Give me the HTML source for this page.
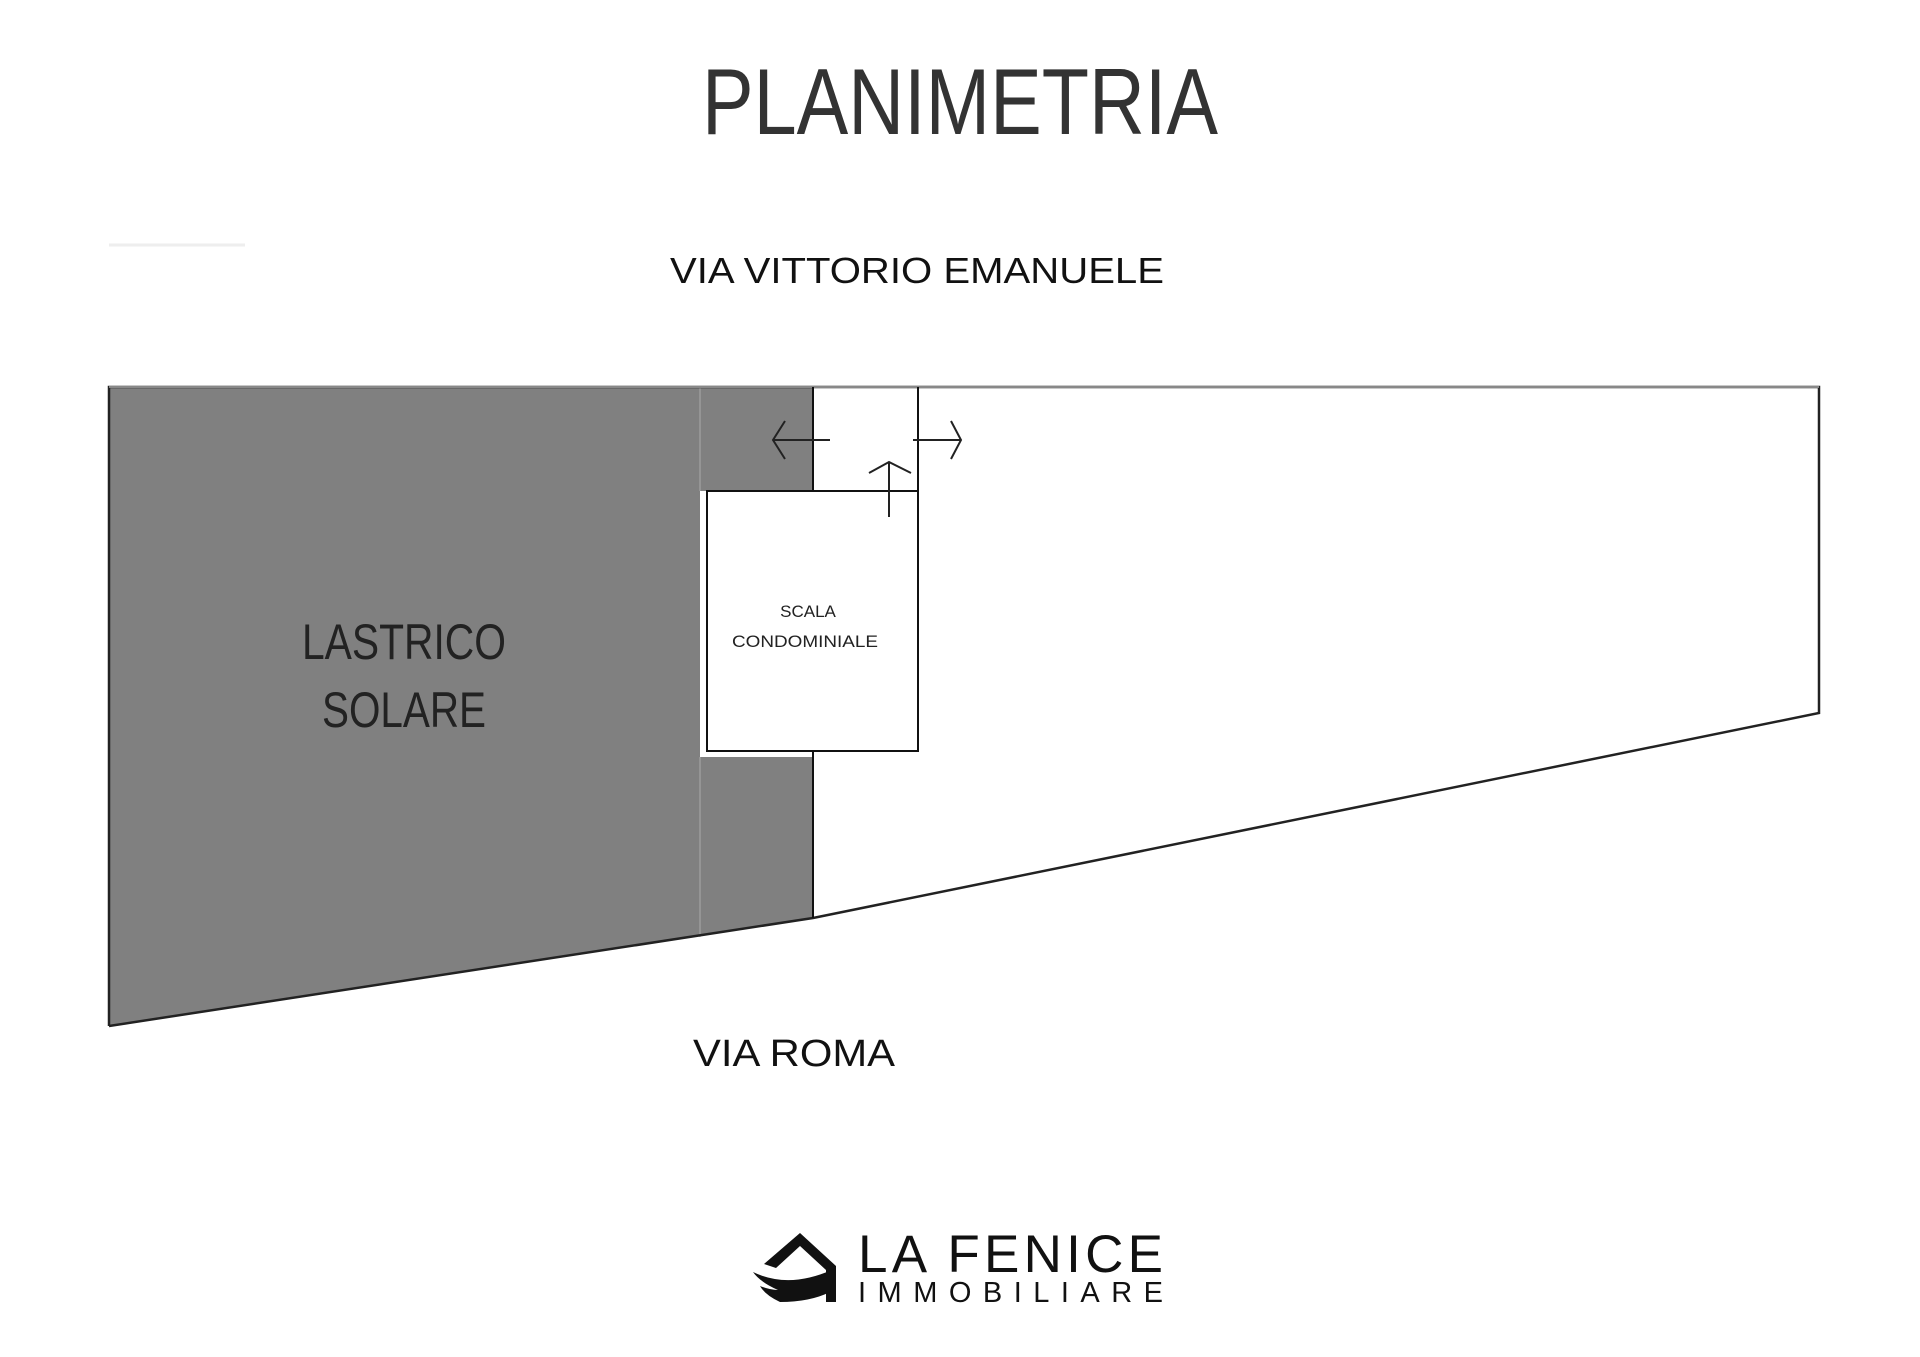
<!DOCTYPE html>
<html><head><meta charset="utf-8"><style>
html,body{margin:0;padding:0;background:#fff;}
svg{display:block}
</style></head><body>
<svg width="1920" height="1357" viewBox="0 0 1920 1357" xmlns="http://www.w3.org/2000/svg">
<rect width="1920" height="1357" fill="#fff"/>
<text x="960" y="134" font-family="Liberation Sans, sans-serif" font-size="94" fill="#333" text-anchor="middle" textLength="516" lengthAdjust="spacingAndGlyphs">PLANIMETRIA</text>
<line x1="109" y1="245" x2="245" y2="245" stroke="#eee" stroke-width="3"/>
<text x="670" y="283" font-family="Liberation Sans, sans-serif" font-size="36" fill="#111" textLength="494" lengthAdjust="spacingAndGlyphs">VIA  VITTORIO EMANUELE</text>

<polygon points="109,387 813,387 813,491 700,491 700,757 813,757 813,918 109,1026" fill="#808080"/>
<line x1="700" y1="387" x2="700" y2="491" stroke="#aaa" stroke-width="1"/>
<line x1="700" y1="757" x2="700" y2="937" stroke="#aaa" stroke-width="1"/>
<polyline points="109,1026 109,387 1819,387 1819,713 813,918 109,1026" fill="none" stroke="#222" stroke-width="2.5"/>
<line x1="109" y1="387" x2="1819" y2="387" stroke="#888" stroke-width="2"/>
<line x1="813" y1="387" x2="813" y2="491" stroke="#111" stroke-width="2"/>
<line x1="813" y1="751" x2="813" y2="918" stroke="#111" stroke-width="2"/>
<line x1="918" y1="387" x2="918" y2="491" stroke="#111" stroke-width="2"/>
<rect x="707" y="491" width="211" height="260" fill="#fff" stroke="#111" stroke-width="2"/>
<text x="808" y="617" font-family="Liberation Sans, sans-serif" font-size="17" fill="#222" text-anchor="middle">SCALA</text>
<text x="805" y="647" font-family="Liberation Sans, sans-serif" font-size="17" fill="#222" text-anchor="middle" textLength="146" lengthAdjust="spacingAndGlyphs">CONDOMINIALE</text>
<g stroke="#222" stroke-width="2" fill="none">
<line x1="773" y1="440" x2="830" y2="440"/><polyline points="785,421 773,440 785,459"/>
<line x1="913" y1="440" x2="960" y2="440"/><polyline points="951,421 961,440 951,459"/>
<line x1="889" y1="517" x2="889" y2="462"/><polyline points="869,473 889,462 911,473"/>
</g>

<text x="404" y="659" font-family="Liberation Sans, sans-serif" font-size="50" fill="#222" text-anchor="middle" textLength="204" lengthAdjust="spacingAndGlyphs">LASTRICO</text>
<text x="404" y="727" font-family="Liberation Sans, sans-serif" font-size="50" fill="#222" text-anchor="middle" textLength="164" lengthAdjust="spacingAndGlyphs">SOLARE</text>
<text x="693" y="1066" font-family="Liberation Sans, sans-serif" font-size="38" fill="#111" textLength="202" lengthAdjust="spacingAndGlyphs">VIA  ROMA</text>

<g fill="#111">
<polygon points="800,1233 836,1266 836,1302 826,1302 826,1270 800,1246 776,1268 764,1264"/>
<path d="M753,1272 Q790,1290 836,1268 L830,1292 Q810,1302 780,1302 Q765,1295 760,1286 Q770,1290 778,1290 Q760,1282 753,1272Z"/>
</g>
<text x="858" y="1272" font-family="Liberation Sans, sans-serif" font-size="53" fill="#111" textLength="305" lengthAdjust="spacing">LA FENICE</text>
<text x="858" y="1302" font-family="Liberation Sans, sans-serif" font-size="29" fill="#111" textLength="305" lengthAdjust="spacing">IMMOBILIARE</text>
</svg>
</body></html>
